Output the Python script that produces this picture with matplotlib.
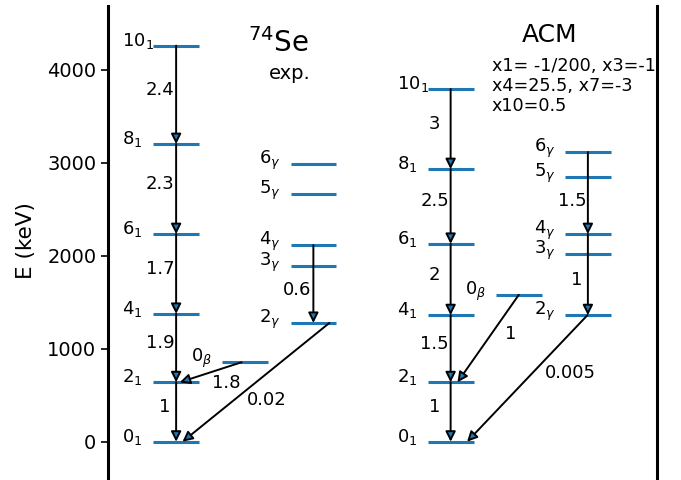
import matplotlib
matplotlib.use("Agg")
import matplotlib.pyplot as plt

# ---------------- data ----------------
# experimental 74Se levels (keV)
exp_ground_names = ["0_1", "2_1", "4_1", "6_1", "8_1", "10_1"]
exp_ground_E = [0, 639, 1374, 2232, 3200, 4258]
exp_beta_names = ["0_\\beta"]
exp_beta_E = [854]
exp_gamma_names = ["2_\\gamma", "3_\\gamma", "4_\\gamma", "5_\\gamma", "6_\\gamma"]
exp_gamma_E = [1277, 1887, 2113, 2665, 2985]

# ACM levels (keV)
acm_ground_names = ["0_1", "2_1", "4_1", "6_1", "8_1", "10_1"]
acm_ground_E = [0, 639, 1360, 2127, 2931, 3792]
acm_beta_names = ["0_\\beta"]
acm_beta_E = [1579]
acm_gamma_names = ["2_\\gamma", "3_\\gamma", "4_\\gamma", "5_\\gamma", "6_\\gamma"]
acm_gamma_E = [1360, 2017, 2232, 2845, 3114]

# transition labels (B(E2) ratios)
exp_ground_trans_labels = ["1", "1.9", "1.7", "2.3", "2.4"]
acm_ground_trans_labels = ["1", "1.5", "2", "2.5", "3"]
exp_other_labels = ["1.8", "0.02", "0.6"]
acm_other_labels = ["1", "0.005", "1.5", "1"]

params_lines = ["x1= -1/200, x3=-1", "x4=25.5, x7=-3", "x10=0.5"]

# ---------------- layout ----------------
fig = plt.figure(figsize=(6.81, 4.80), dpi=100)
ax = fig.add_axes([107.5 / 681, 0.0, 549 / 681, 474 / 480])
ax.set_xlim(0, 12)
ax.set_ylim(-412, 4685)

for s in ["top", "bottom"]:
    ax.spines[s].set_visible(False)
for s in ["left", "right"]:
    ax.spines[s].set_linewidth(2.2)
ax.set_xticks([])
ax.set_yticks([0, 1000, 2000, 3000, 4000])
ax.tick_params(axis="y", labelsize=14, length=5, width=1.2, pad=3)
fig.text(26 / 681, 1 - 241 / 480, "E (keV)", rotation=90, ha="center",
         va="center", fontsize=15.5)

LW = 2.2
COL = "#1f77b4"
LAB_DX = 0.68


def draw_levels(x0, names, energies):
    for n, e in zip(names, energies):
        ax.plot([x0, x0 + 1.0], [e, e], color=COL, lw=LW, solid_capstyle="butt", zorder=2)
        ax.text(x0 - LAB_DX, e, "$" + n + "$", ha="left", va="baseline", fontsize=13)


def arrow(x1, y1, x2, y2):
    ax.annotate("", xy=(x2, y2), xytext=(x1, y1),
                arrowprops=dict(arrowstyle="-|>", fc=COL, ec="k", lw=1.4,
                                mutation_scale=15, shrinkA=0, shrinkB=0),
                zorder=3)


# experimental
draw_levels(1.0, exp_ground_names, exp_ground_E)
draw_levels(2.5, exp_beta_names, exp_beta_E)
draw_levels(4.0, exp_gamma_names, exp_gamma_E)

for i, lab in enumerate(exp_ground_trans_labels):
    lo, hi = exp_ground_E[i], exp_ground_E[i + 1]
    arrow(1.5, hi, 1.5, lo)
    xl = 1.26 if lab == "1" else 1.15
    ax.text(xl, (lo + hi) / 2, lab, ha="center", va="baseline", fontsize=13)

# 0beta -> 2_1
arrow(2.93, exp_beta_E[0], 1.58, exp_ground_E[1])
ax.text(2.60, 581, exp_other_labels[0], ha="center", va="baseline", fontsize=13)
# 2gamma -> 0_1
arrow(4.85, exp_gamma_E[0], 1.64, exp_ground_E[0])
ax.text(3.48, 395, exp_other_labels[1], ha="center", va="baseline", fontsize=13)
# 4gamma -> 2gamma
arrow(4.5, exp_gamma_E[2], 4.5, exp_gamma_E[0])
ax.text(4.15, (exp_gamma_E[1] + exp_gamma_E[0]) / 2, exp_other_labels[2],
        ha="center", va="baseline", fontsize=13)

# ACM
draw_levels(7.0, acm_ground_names, acm_ground_E)
draw_levels(8.5, acm_beta_names, acm_beta_E)
draw_levels(10.0, acm_gamma_names, acm_gamma_E)

for i, lab in enumerate(acm_ground_trans_labels):
    lo, hi = acm_ground_E[i], acm_ground_E[i + 1]
    arrow(7.5, hi, 7.5, lo)
    ax.text(7.15, (lo + hi) / 2, lab, ha="center", va="baseline", fontsize=13)

arrow(8.99, acm_beta_E[0], 7.65, acm_ground_E[1])
ax.text(8.81, 1105, acm_other_labels[0], ha="center", va="baseline", fontsize=13)
arrow(10.49, acm_gamma_E[0], 7.86, acm_ground_E[0])
ax.text(10.11, 689, acm_other_labels[1], ha="center", va="baseline", fontsize=13)
arrow(10.5, acm_gamma_E[4], 10.5, acm_gamma_E[2])
ax.text(10.15, (acm_gamma_E[3] + acm_gamma_E[2]) / 2, acm_other_labels[2],
        ha="center", va="baseline", fontsize=13)
arrow(10.5, acm_gamma_E[2], 10.5, acm_gamma_E[0])
ax.text(10.26, (acm_gamma_E[1] + acm_gamma_E[0]) / 2, acm_other_labels[3],
        ha="center", va="baseline", fontsize=13)

# titles
ax.text(3.73, 4190, "$^{74}$Se", ha="center", va="baseline", fontsize=20)
ax.text(3.98, 3895, "exp.", ha="center", va="baseline", fontsize=14)
ax.text(9.66, 4298, "ACM", ha="center", va="baseline", fontsize=18)
for k, line in enumerate(params_lines):
    ax.text(8.40, 3981 - 215 * k, line, ha="left", va="baseline", fontsize=12.7)

fig.savefig("out.png", dpi=100)
